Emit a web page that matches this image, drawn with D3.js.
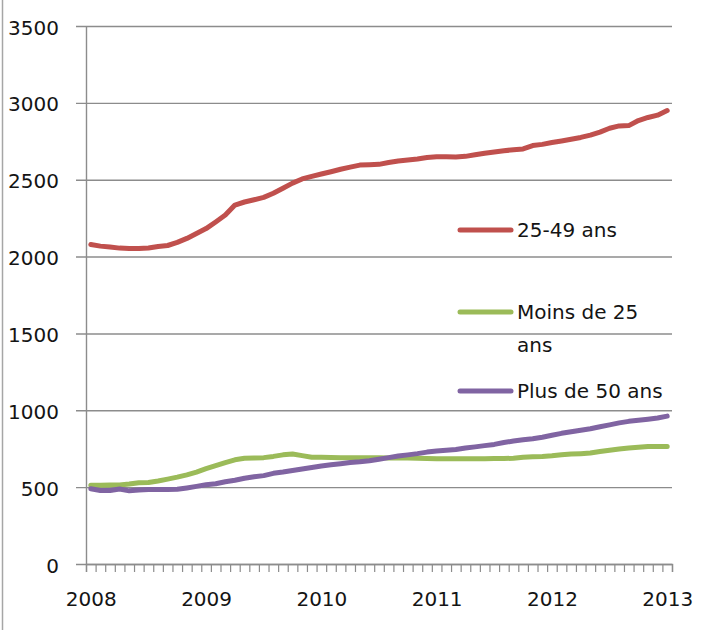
<!DOCTYPE html>
<html>
<head>
<meta charset="utf-8">
<script src="https://cdn.jsdelivr.net/npm/d3@7"></script>
<style>
  html, body { margin: 0; padding: 0; background: #fff; }
  svg { display: block; }
  text { font-family: "DejaVu Sans", sans-serif; fill: #141414; }
</style>
</head>
<body>
<svg id="chart" width="713" height="630"></svg>
<script>
// Monthly series, January 2008 to January 2013 (61 months)
const yearLabels = ["2008", "2009", "2010", "2011", "2012", "2013"];
const yTicks = [0, 500, 1000, 1500, 2000, 2500, 3000, 3500];

const age25to49 = [
  2078, 2068, 2062, 2055, 2052, 2052, 2056, 2066, 2072, 2092, 2118, 2150,
  2182, 2225, 2270, 2335, 2355, 2370, 2385, 2412, 2445, 2478, 2505, 2522,
  2537, 2552, 2568, 2582, 2595, 2598, 2600, 2612, 2622, 2628, 2635, 2645,
  2650, 2650, 2648, 2652, 2662, 2672, 2680, 2688, 2695, 2700, 2722, 2730,
  2742, 2752, 2763, 2775, 2790, 2810, 2835, 2850, 2852, 2885, 2905, 2920,
  2950
];
const under25 = [
  512, 512, 514, 514, 520, 528, 530, 540, 552, 565, 580, 598,
  620, 640, 660, 678, 688, 690, 692, 700, 710, 716, 705, 695,
  694, 693, 692, 692, 692, 692, 691, 690, 690, 690, 688, 686,
  685, 684, 684, 684, 684, 685, 686, 686, 688, 695, 698, 700,
  704, 710, 715, 718, 722, 732, 740, 748, 755, 760, 765, 765,
  765
];
const over50 = [
  490, 478, 478, 488, 476, 482, 485, 485, 485, 486, 495, 505,
  515, 522, 535, 545, 558, 568, 575, 590, 598, 608, 618, 628,
  638, 645, 652, 660, 665, 672, 682, 692, 702, 710, 718, 728,
  735, 740, 745, 755, 762, 770, 778, 790, 800, 808, 815, 825,
  838, 850, 860, 870, 880, 893, 905, 918, 928, 935, 942, 950,
  962
];

const seriesNames = ["25-49 ans", "Moins de 25 ans", "Plus de 50 ans"];
const seriesColors = ["#C0504D", "#9BBB59", "#8064A2"];
const seriesValues = [age25to49, under25, over50];

const svg = d3.select("#chart");
const plotLeft = 86, plotRight = 672, plotTop = 26, plotBottom = 564;
const nMonths = age25to49.length;

// Category axis: each month occupies one slot between two tick marks
const x = d3.scaleLinear().domain([0, nMonths]).range([plotLeft, plotRight]);
const y = d3.scaleLinear().domain([0, 3500]).range([plotBottom, plotTop]);

const gridColor = "#8c8c8c";

// frame edge on the left
svg.append("line")
  .attr("x1", 2.5).attr("x2", 2.5).attr("y1", 0).attr("y2", 630)
  .attr("stroke", "#a6a6a6").attr("stroke-width", 1.5);

// horizontal gridlines
const grid = svg.append("g")
  .attr("transform", `translate(${plotRight},0)`)
  .call(d3.axisLeft(y).tickValues(yTicks).tickSize(plotRight - plotLeft + 10).tickFormat(""));
grid.select(".domain").remove();
grid.selectAll(".tick line").attr("stroke", gridColor).attr("stroke-width", 1.4);

// y axis
const yAxis = svg.append("g")
  .attr("transform", `translate(${plotLeft},0)`)
  .call(d3.axisLeft(y).tickValues(yTicks).tickSize(0).tickPadding(27).tickFormat(d3.format("d")));
yAxis.select(".domain").attr("stroke", gridColor).attr("stroke-width", 1.4);
yAxis.selectAll(".tick text")
  .style("font-size", "20px").attr("dy", "0.4em");

// x axis: monthly tick marks
const xTicks = svg.append("g")
  .attr("transform", `translate(0,${plotBottom})`)
  .call(d3.axisBottom(x).tickValues(d3.range(nMonths + 1)).tickSize(8).tickFormat(""));
xTicks.select(".domain").attr("stroke", gridColor).attr("stroke-width", 1.4);
xTicks.selectAll(".tick line").attr("stroke", gridColor).attr("stroke-width", 1.2);

// x axis: year labels under January of each year
const xLabels = svg.append("g")
  .attr("transform", `translate(0,${plotBottom})`)
  .call(d3.axisBottom(x)
    .tickValues(yearLabels.map((_, k) => k * 12 + 0.5))
    .tickSize(0).tickPadding(28)
    .tickFormat((d, k) => yearLabels[k]));
xLabels.select(".domain").remove();
xLabels.selectAll(".tick text").style("font-size", "20px");

// series lines
const line = d3.line()
  .x((d, i) => x(i + 0.5))
  .y(d => y(d))
  .curve(d3.curveLinear);

svg.append("g").selectAll("path")
  .data(seriesValues)
  .join("path")
  .attr("d", line)
  .attr("fill", "none")
  .attr("stroke", (d, i) => seriesColors[i])
  .attr("stroke-width", 5)
  .attr("stroke-linecap", "round")
  .attr("stroke-linejoin", "round");

// legend
const legendRows = [
  { name: 0, y: 230, lines: ["25-49 ans"] },
  { name: 1, y: 312, lines: ["Moins de 25", "ans"] },
  { name: 2, y: 391, lines: ["Plus de 50 ans"] }
];
const legend = svg.append("g");
legendRows.forEach(r => {
  legend.append("line")
    .attr("x1", 460).attr("x2", 511)
    .attr("y1", r.y).attr("y2", r.y)
    .attr("stroke", seriesColors[r.name])
    .attr("stroke-width", 5)
    .attr("stroke-linecap", "round");
  r.lines.forEach((t, k) => {
    legend.append("text")
      .attr("x", 517).attr("y", r.y + k * 33)
      .attr("dy", "0.36em")
      .style("font-size", "20px")
      .text(t);
  });
});
</script>
</body>
</html>
